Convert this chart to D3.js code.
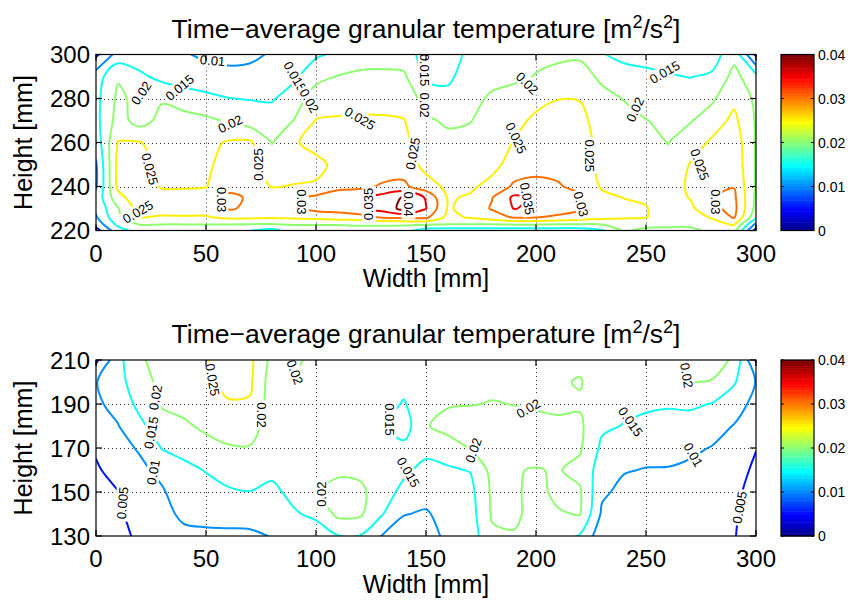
<!DOCTYPE html>
<html>
<head>
<meta charset="utf-8">
<script src="https://cdn.jsdelivr.net/npm/d3@7/dist/d3.min.js"></script>
<style>
  html, body { margin: 0; padding: 0; background: #fff; }
  svg text { font-family: "Liberation Sans", Arial, Helvetica, sans-serif; fill: #000; }
</style>
</head>
<body>
<svg id="chart" width="855" height="603"></svg>
<script>
// Measurement grid positions (mm)
const widthMm = [0, 10, 20, 30, 40, 50, 60, 70, 80, 90, 100, 110, 120, 130, 140, 150,
                 160, 170, 180, 190, 200, 210, 220, 230, 240, 250, 260, 270, 280, 290, 300];
const upperHeightMm = [220, 223, 226, 230, 235, 240, 250, 260, 270, 280, 290, 300];
const lowerHeightMm = [130, 140, 150, 160, 170, 180, 190, 200, 210];

// Time-averaged granular temperature [m^2/s^2]:
// one vertical profile per width position, listed from the lowest height upwards.
const upperTemp = [
  [.003, .007, .0095, .011, .0115, .0095, .0095, .012, .0135, .0135, .0125, .004],
  [.013, .0165, .019, .0197, .0235, .026, .0265, .0252, .022, .021, .0195, .012],
  [.017, .0205, .0252, .027, .028, .028, .027, .0252, .018, .0185, .016, .012],
  [.0175, .0202, .0245, .027, .027, .0245, .0235, .023, .0215, .0195, .0135, .011],
  [.0175, .0202, .0245, .0275, .027, .0245, .023, .0225, .0215, .018, .012, .0105],
  [.0175, .0202, .0245, .0275, .027, .0248, .024, .0235, .021, .016, .0125, .009],
  [.0175, .0202, .0262, .0305, .031, .0285, .027, .0255, .0195, .0151, .012, .008],
  [.0152, .0202, .026, .0292, .0295, .0275, .026, .0258, .0175, .0148, .0115, .009],
  [.0135, .0202, .0255, .028, .0275, .0248, .0225, .0198, .0175, .0145, .012, .0105],
  [.0175, .0205, .026, .0285, .0285, .0252, .0235, .0245, .0201, .0175, .014, .012],
  [.0175, .0205, .0265, .0315, .031, .0255, .0238, .0265, .0252, .0225, .0185, .0142],
  [.0175, .0205, .0275, .032, .032, .029, .0262, .0268, .0255, .023, .0202, .016],
  [.0175, .021, .028, .034, .0335, .029, .027, .027, .0255, .0235, .0208, .018],
  [.0175, .021, .0305, .037, .037, .0305, .0275, .027, .0255, .0235, .021, .018],
  [.017, .021, .031, .0415, .0405, .031, .0275, .0265, .0252, .0225, .0208, .0175],
  [.0125, .021, .031, .0352, .0345, .027, .0235, .0215, .0205, .0185, .0138, .013],
  [.012, .0205, .0235, .0245, .0245, .024, .0225, .0209, .0195, .0165, .014, .013],
  [.012, .0205, .0255, .0265, .0255, .0242, .0228, .0215, .0198, .019, .0175, .016],
  [.012, .0205, .0275, .0305, .0298, .0265, .0235, .0228, .0218, .0205, .019, .018],
  [.012, .021, .0305, .0352, .036, .0308, .027, .0252, .0235, .021, .0195, .019],
  [.012, .021, .0302, .034, .0342, .0312, .0285, .0272, .026, .0235, .0201, .0195],
  [.012, .0205, .029, .0325, .0325, .0305, .0282, .0272, .0265, .0249, .0212, .0192],
  [.012, .0205, .0275, .031, .031, .0285, .0272, .027, .0262, .0248, .022, .0192],
  [.0145, .0205, .0265, .0272, .026, .0245, .0238, .0235, .023, .0215, .019, .0152],
  [.0205, .0225, .0255, .026, .0249, .024, .0232, .0225, .0215, .0198, .0165, .014],
  [.019, .0215, .0252, .0252, .0245, .0232, .0222, .0212, .0201, .0185, .016, .0135],
  [.019, .021, .0225, .023, .023, .0225, .021, .0199, .0192, .018, .0155, .0125],
  [.0195, .0205, .0225, .0238, .0252, .0258, .0252, .0225, .0196, .0185, .0148, .012],
  [.0205, .0232, .0255, .0288, .0298, .0285, .0272, .0258, .0225, .0192, .0158, .0125],
  [.0215, .0258, .0305, .0315, .031, .0298, .0285, .028, .0262, .0238, .0215, .0185],
  [.003, .009, .016, .0185, .019, .0195, .0195, .0195, .0195, .019, .0165, .004]
];

const lowerTemp = [
  [.002, .0035, .004, .0045, .0055, .0075, .0092, .0098, .004],
  [.0035, .0043, .0049, .0065, .0085, .0098, .0115, .013, .0135],
  [.006, .0068, .0078, .009, .0105, .0138, .0165, .0185, .0195],
  [.0075, .0085, .0095, .0112, .0152, .018, .0205, .021, .0215],
  [.0088, .011, .0125, .014, .0162, .0192, .0215, .0225, .023],
  [.009, .0115, .0135, .0152, .0182, .021, .0225, .0238, .0248],
  [.009, .0118, .0142, .0175, .0195, .0225, .0245, .0265, .027],
  [.0092, .0118, .0149, .0172, .0197, .0222, .0245, .0258, .0262],
  [.0102, .0125, .014, .016, .0175, .0175, .0175, .0175, .0185],
  [.011, .0145, .0162, .0175, .0178, .0178, .0182, .0192, .021],
  [.0125, .016, .0195, .0198, .018, .0175, .0175, .018, .0185],
  [.0148, .0212, .0215, .0192, .0182, .0178, .0175, .0178, .0182],
  [.0148, .0208, .0212, .0188, .018, .0175, .0172, .0172, .0175],
  [.0098, .0153, .017, .0178, .0175, .0156, .0168, .017, .0172],
  [.0075, .0102, .0138, .0158, .0162, .0128, .0146, .0165, .0168],
  [.0082, .0095, .0118, .0138, .0162, .0195, .0185, .0175, .017],
  [.011, .0118, .0128, .0145, .017, .0222, .0195, .018, .0175],
  [.0122, .0128, .0135, .0152, .0202, .0225, .0198, .0185, .0178],
  [.0192, .0205, .0208, .0215, .0225, .0222, .0202, .019, .0182],
  [.0195, .0212, .0208, .0202, .0212, .0215, .0199, .019, .018],
  [.0172, .0178, .0185, .0198, .0215, .0212, .0195, .0188, .018],
  [.0175, .0195, .0212, .0203, .0215, .0208, .0192, .0195, .0185],
  [.0145, .0203, .0205, .0188, .0205, .0208, .0195, .0203, .019],
  [.0068, .0092, .0108, .0125, .014, .0158, .0172, .0175, .018],
  [.0065, .0075, .0088, .0103, .0125, .0148, .0162, .0168, .0172],
  [.0065, .0072, .0085, .0098, .0115, .0138, .0158, .0168, .017],
  [.0065, .0072, .0085, .0098, .0112, .0132, .0155, .0168, .0175],
  [.0062, .0068, .0078, .0092, .0108, .013, .0158, .0201, .0203],
  [.0058, .0062, .0072, .0085, .0098, .0118, .0148, .0198, .0215],
  [.0053, .0056, .0062, .0072, .0085, .0098, .0122, .0155, .0195],
  [.002, .0025, .003, .004, .0052, .0065, .0085, .0098, .0045]
];

const contourLevels = [0.005, 0.01, 0.015, 0.02, 0.025, 0.03, 0.035, 0.04];
const colorTicks = [0, 0.01, 0.02, 0.03, 0.04];
const colorMax = 0.04;
const widthTicks = [0, 50, 100, 150, 200, 250, 300];
const upperHeightTicks = [220, 240, 260, 280, 300];
const lowerHeightTicks = [130, 150, 170, 190, 210];

// Inline contour labels: [width mm, height mm, rotation deg, text]
const upperLabels = [
  [53, 297.3, 5, "0.01"], [38, 285, -40, "0.015"], [20.5, 282.5, -55, "0.02"],
  [90.5, 290, 60, "0.015"], [97, 279, 60, "0.02"], [61, 268.5, -25, "0.02"],
  [120, 271, 30, "0.025"], [24.5, 248, 75, "0.025"], [74, 250, -90, "0.025"],
  [144, 255, -80, "0.025"], [19, 228.5, -30, "0.025"], [57, 234, 90, "0.03"],
  [93.5, 233, 90, "0.03"], [124, 232, -90, "0.035"], [142, 232, 90, "0.04"],
  [149.5, 293, 90, "0.015"], [149.5, 277, 90, "0.02"], [196, 287, 45, "0.02"],
  [258.5, 292, -30, "0.015"], [245, 275, -65, "0.02"], [191, 262, 65, "0.025"],
  [224.5, 254, 90, "0.025"], [196, 234.5, 80, "0.035"], [220.5, 232, 75, "0.03"],
  [274.5, 250, 70, "0.025"], [281.5, 233, 90, "0.03"]
];
const lowerLabels = [
  [12, 145, -85, "0.005"], [26, 159, -80, "0.01"], [25, 177, -80, "0.015"],
  [27, 193, -80, "0.02"], [53, 201, 80, "0.025"], [75.5, 185, 90, "0.02"],
  [90.5, 204.5, 70, "0.02"], [102.5, 149, -90, "0.02"], [133.5, 183, 90, "0.015"],
  [142, 159, 60, "0.015"], [196.5, 188, -30, "0.02"], [171.5, 169, -70, "0.02"],
  [243, 182, 55, "0.015"], [271.5, 167, 60, "0.01"], [292.5, 143, -80, "0.005"],
  [268.5, 203, 80, "0.02"]
];

// MATLAB-style 64-entry jet colormap, k = 1..64
function jetRow(k) {
  const u = i => (i >= 1 && i <= 16) ? i / 16 : (i >= 17 && i <= 31) ? 1 : (i >= 32 && i <= 47) ? (48 - i) / 16 : 0;
  return d3.rgb(Math.round(255 * u(k - 24)), Math.round(255 * u(k - 8)), Math.round(255 * u(k + 8)));
}
const levelColor = v => jetRow(Math.min(64, Math.floor(v / colorMax * 64 + 1e-9) + 1));

const svg = d3.select("#chart");
const xScale = d3.scaleLinear().domain([0, 300]).range([96, 756]);

const panels = [
  { heights: upperHeightMm, profiles: upperTemp, yDomain: [220, 300], yRange: [230.5, 54.5],
    yTicks: upperHeightTicks, labels: upperLabels, titleY: 38 },
  { heights: lowerHeightMm, profiles: lowerTemp, yDomain: [130, 210], yRange: [536, 360],
    yTicks: lowerHeightTicks, labels: lowerLabels, titleY: 343 }
];

const openLine = d3.line().curve(d3.curveCatmullRom.alpha(0.5));
const closedLine = d3.line().curve(d3.curveCatmullRomClosed.alpha(0.5));

panels.forEach((p, pi) => {
  const y = d3.scaleLinear().domain(p.yDomain).range(p.yRange);
  const nx = widthMm.length, ny = p.heights.length;
  const values = new Array(nx * ny);
  for (let j = 0; j < ny; j++) for (let i = 0; i < nx; i++) values[j * nx + i] = p.profiles[i][j];

  // grid index -> mm (values sit at index + 0.5 in contour space)
  const colToMm = d3.scaleLinear().domain(d3.range(nx)).range(widthMm);
  const rowToMm = d3.scaleLinear().domain(d3.range(ny)).range(p.heights);
  const toPx = ([cx, cy]) => [xScale(colToMm(cx - 0.5)), y(rowToMm(cy - 0.5))];
  const isOut = ([cx, cy]) => cx <= 0 || cx >= nx || cy <= 0 || cy >= ny;

  const x0 = xScale(0), x1 = xScale(300), yT = y(p.yDomain[1]), yB = y(p.yDomain[0]);
  const clipId = "plotclip" + pi;
  svg.append("clipPath").attr("id", clipId)
    .append("rect").attr("x", x0).attr("y", yT).attr("width", x1 - x0).attr("height", yB - yT);

  // dotted grid
  const grid = svg.append("g").attr("stroke", "#333").attr("stroke-width", 1).attr("stroke-dasharray", "1 3");
  widthTicks.slice(1, -1).forEach(t => grid.append("line")
    .attr("x1", xScale(t) + 0.5).attr("x2", xScale(t) + 0.5).attr("y1", yT).attr("y2", yB));
  p.yTicks.slice(1, -1).forEach(t => grid.append("line")
    .attr("x1", x0).attr("x2", x1).attr("y1", Math.round(y(t)) + 0.5).attr("y2", Math.round(y(t)) + 0.5));

  // contour lines
  const plot = svg.append("g").attr("clip-path", `url(#${clipId})`);
  const contours = d3.contours().size([nx, ny]).thresholds(contourLevels)(values);
  contours.forEach(c => {
    const col = levelColor(c.value).formatHex();
    const draw = (pts, closed) => plot.append("path")
      .attr("d", (closed ? closedLine : openLine)(pts.map(toPx)))
      .attr("fill", "none").attr("stroke", col).attr("stroke-width", 2)
      .attr("stroke-linejoin", "round").attr("stroke-linecap", "round");
    c.coordinates.forEach(poly => poly.forEach(ring => {
      const pts = ring.slice(0, -1);
      const outIdx = pts.findIndex(isOut);
      if (outIdx < 0) { draw(pts, true); return; }
      const rot = pts.slice(outIdx).concat(pts.slice(0, outIdx));
      let run = [];
      rot.forEach(pt => {
        if (isOut(pt)) { if (run.length > 1) draw(run, false); run = []; }
        else run.push(pt);
      });
      if (run.length > 1) draw(run, false);
    }));
  });

  // inline contour labels
  p.labels.forEach(([lx, ly, ang, txt]) => {
    const gl = plot.append("g").attr("transform", `translate(${xScale(lx)},${y(ly)}) rotate(${ang})`);
    const t = gl.append("text").attr("text-anchor", "middle").attr("dy", "0.36em")
      .attr("font-size", 13).text(txt);
    const w = t.node().getComputedTextLength();
    gl.insert("rect", "text").attr("x", -w / 2 - 2).attr("y", -7).attr("width", w + 4)
      .attr("height", 14).attr("fill", "#fff");
  });

  // axes box and inward ticks on all sides
  const ax = svg.append("g").attr("stroke", "#000").attr("stroke-width", 1.2).attr("fill", "none");
  ax.append("rect").attr("x", x0).attr("y", yT).attr("width", x1 - x0).attr("height", yB - yT);
  const tl = 6;
  widthTicks.forEach(t => {
    const xp = xScale(t);
    ax.append("line").attr("x1", xp).attr("x2", xp).attr("y1", yB).attr("y2", yB - tl);
    ax.append("line").attr("x1", xp).attr("x2", xp).attr("y1", yT).attr("y2", yT + tl);
  });
  p.yTicks.forEach(t => {
    const yp = y(t);
    ax.append("line").attr("x1", x0).attr("x2", x0 + tl).attr("y1", yp).attr("y2", yp);
    ax.append("line").attr("x1", x1).attr("x2", x1 - tl).attr("y1", yp).attr("y2", yp);
  });

  // tick labels
  widthTicks.forEach(t => svg.append("text").attr("x", xScale(t)).attr("y", yB + 31)
    .attr("text-anchor", "middle").attr("font-size", 24).text(t));
  p.yTicks.forEach(t => svg.append("text").attr("x", x0 - 6).attr("y", y(t)).attr("dy", "0.36em")
    .attr("text-anchor", "end").attr("font-size", 24).text(t));

  // axis titles
  svg.append("text").attr("x", (x0 + x1) / 2).attr("y", yB + 56.5).attr("text-anchor", "middle")
    .attr("font-size", 25).text("Width [mm]");
  svg.append("text").attr("transform", `translate(32,${(yT + yB) / 2}) rotate(-90)`)
    .attr("text-anchor", "middle").attr("font-size", 25).text("Height [mm]");

  // panel title with superscripts
  const title = svg.append("text").attr("x", (x0 + x1) / 2).attr("y", p.titleY)
    .attr("text-anchor", "middle").attr("font-size", 26.5);
  title.append("tspan").text("Time\u2212average granular temperature [m");
  title.append("tspan").attr("dy", -10).attr("font-size", 18).text("2");
  title.append("tspan").attr("dy", 10).text("/s");
  title.append("tspan").attr("dy", -10).attr("font-size", 18).text("2");
  title.append("tspan").attr("dy", 10).text("]");

  // colour bar
  const cbX = 781, cbW = 33;
  const cy = d3.scaleLinear().domain([0, colorMax]).range([yB, yT]);
  const cb = svg.append("g");
  d3.range(1, 65).forEach(k => {
    cb.append("rect").attr("x", cbX).attr("width", cbW)
      .attr("y", cy(k / 64 * colorMax)).attr("height", cy((k - 1) / 64 * colorMax) - cy(k / 64 * colorMax) + 0.5)
      .attr("fill", jetRow(k).formatHex());
  });
  cb.append("rect").attr("x", cbX).attr("y", yT).attr("width", cbW).attr("height", yB - yT)
    .attr("fill", "none").attr("stroke", "#000").attr("stroke-width", 1.2);
  colorTicks.forEach(t => {
    const yp = cy(t);
    cb.append("line").attr("x1", cbX).attr("x2", cbX + 3).attr("y1", yp).attr("y2", yp).attr("stroke", "#000");
    cb.append("line").attr("x1", cbX + cbW).attr("x2", cbX + cbW - 3).attr("y1", yp).attr("y2", yp).attr("stroke", "#000");
    cb.append("text").attr("x", cbX + cbW + 4).attr("y", yp).attr("dy", "0.36em")
      .attr("font-size", 14).text(t);
  });
});
</script>
</body>
</html>
